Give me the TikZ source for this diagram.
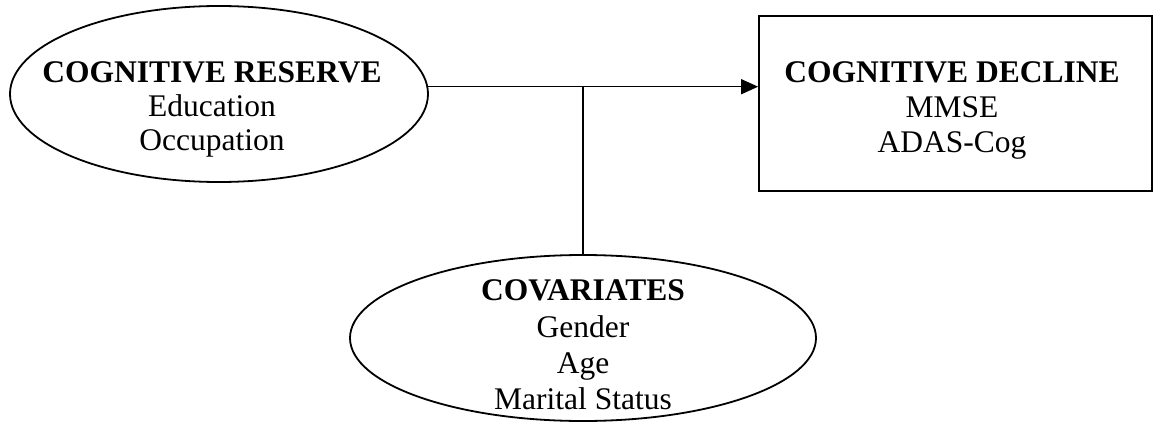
\documentclass[tikz,border=0pt]{standalone}
\usepackage{fontspec}
\setmainfont{Liberation Serif}
\usetikzlibrary{shapes.geometric,arrows.meta}
\begin{document}
\begin{tikzpicture}[x=1pt,y=-1pt,
  outline/.style={draw=black,line width=1.8pt},
  oval/.style={outline,ellipse,inner sep=0pt},
  txt/.style={anchor=base,inner sep=0pt,font=\fontsize{31.5}{34}\selectfont},
  head/.style={txt,font=\fontsize{31.5}{34}\selectfont\bfseries},
  conn/.style={line width=1.6pt}]
\useasboundingbox (0,0) rectangle (1157,423);
% shapes
\node[oval,minimum width=418pt,minimum height=176pt] (cr) at (219,94) {};
\node[outline,rectangle,minimum width=393pt,minimum height=175pt,inner sep=0pt] (cd) at (955.5,103.5) {};
\node[oval,minimum width=466pt,minimum height=166pt] (cov) at (583,338) {};
% texts
\node[head] (crh) at (212,82) {COGNITIVE RESERVE};
\node[txt] (cr1) at (212,116) {Education};
\node[txt] (cr2) at (212,150) {Occupation};
\node[head] (cdh) at (952,82) {COGNITIVE DECLINE};
\node[txt] (cd1) at (952,117) {MMSE};
\node[txt] (cd2) at (952,152) {ADAS-Cog};
\node[head] (covh) at (583,300) {COVARIATES};
\node[txt] (cov1) at (583,337) {Gender};
\node[txt] (cov2) at (583,373) {Age};
\node[txt] (cov3) at (583,409) {Marital Status};
% connectors
\coordinate (j) at (cov.north |- cr.2);
\draw[conn,-{Triangle[length=17pt,width=15pt]}] (cr.2) -- (cr.2 -| cd.west);
\draw[conn] (cov.north) -- (j);
\end{tikzpicture}
\end{document}
